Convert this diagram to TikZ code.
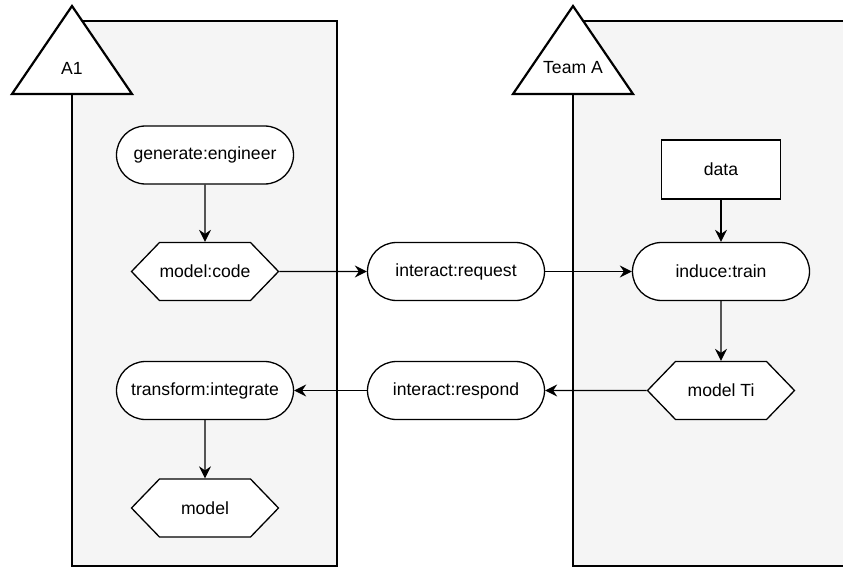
\documentclass[tikz,border=0pt]{standalone}
\usepackage{fontspec}
\setmainfont{Liberation Sans}
\usetikzlibrary{shapes.symbols,arrows.meta}
\definecolor{lanefill}{HTML}{F5F5F5}
\tikzset{
  every node/.style={font=\fontsize{17.6}{21}\selectfont, inner sep=0pt},
  lane/.style={fill=lanefill, draw=none},
  laneborder/.style={draw=black, line width=2.2pt},
  lanetri/.style={draw=black, fill=white, line width=2.2pt, line join=miter},
  stadium/.style={draw=black, fill=white, line width=1.3pt, rounded corners=29pt, minimum width=177pt, minimum height=58pt},
  hexa/.style={draw=black, fill=white, line width=1.3pt, signal, signal to=west and east, signal pointer angle=92, minimum width=147pt, minimum height=58pt},
  boxnode/.style={draw=black, fill=white, line width=1.3pt, minimum width=119pt, minimum height=59pt},
  conn/.style={draw=black, line width=1.3pt, -{Stealth[length=12pt,width=12pt,inset=4pt]}}
}
\begin{document}
\begin{tikzpicture}[x=1pt,y=-1pt]
\useasboundingbox (0,0) rectangle (843,567);
% left lane
\fill[lane] (72,21) rectangle (337,566);
\draw[laneborder] (72,21) rectangle (337,566);
\draw[lanetri] (72,6) -- (132,94) -- (12,94) -- cycle;
\node (a1) at (72,68) {A1};
% right lane
\fill[lane] (573,21) rectangle (843,566);
\draw[laneborder] (846,21) -- (573,21) -- (573,566) -- (846,566);
\draw[lanetri] (573,6) -- (633,94) -- (513,94) -- cycle;
\node (teama) at (573,68) {Team A};
% nodes
\node[stadium] (gen) at (205,155) {generate:engineer};
\node[hexa] (code) at (205,271.5) {model:code};
\node[stadium] (req) at (456,271.5) {interact:request};
\node[boxnode] (data) at (721,169.5) {data};
\node[stadium] (train) at (721,271.5) {induce:train};
\node[hexa] (mti) at (721,390.5) {model Ti};
\node[stadium] (resp) at (456,390.5) {interact:respond};
\node[stadium] (integ) at (205,390.5) {transform:integrate};
\node[hexa] (model) at (205,508) {model};
% connectors
\draw[conn] (gen) -- (code);
\draw[conn] (code) -- (req);
\draw[conn] (req) -- (train);
\draw[conn] (data) -- (train);
\draw[conn] (train) -- (mti);
\draw[conn] (mti) -- (resp);
\draw[conn] (resp) -- (integ);
\draw[conn] (integ) -- (model);
\end{tikzpicture}
\end{document}
